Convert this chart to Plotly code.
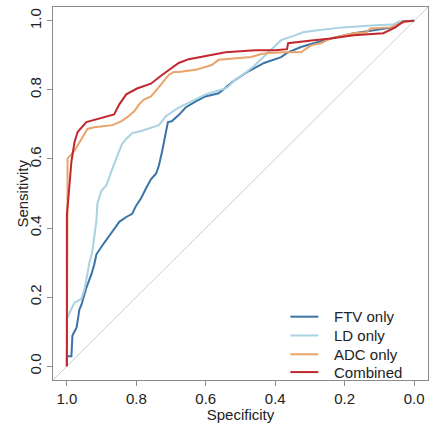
import plotly.graph_objects as go

# ROC curves (specificity, sensitivity)
ftv_spec = [1.0, 1.0, 0.987, 0.984, 0.972, 0.969, 0.964, 0.958, 0.952, 0.944, 0.929, 0.921, 0.915, 0.906,
            0.892, 0.869, 0.849, 0.829, 0.812, 0.801, 0.786, 0.772, 0.758, 0.743, 0.735, 0.726, 0.721, 0.715,
            0.709, 0.698, 0.678, 0.658, 0.629, 0.601, 0.563, 0.518, 0.480, 0.432, 0.383, 0.366, 0.326, 0.289,
            0.240, 0.174, 0.126, 0.060, 0.031, 0.0]
ftv_sens = [0.0, 0.029, 0.029, 0.089, 0.112, 0.138, 0.164, 0.178, 0.201, 0.227, 0.267, 0.295, 0.324, 0.338,
            0.358, 0.390, 0.418, 0.432, 0.441, 0.464, 0.487, 0.515, 0.541, 0.558, 0.581, 0.621, 0.649, 0.684,
            0.707, 0.709, 0.727, 0.749, 0.767, 0.781, 0.790, 0.827, 0.852, 0.878, 0.895, 0.907, 0.924, 0.935,
            0.949, 0.964, 0.972, 0.981, 0.998, 1.0]

ld_spec = [1.0, 1.0, 0.987, 0.978, 0.958, 0.949, 0.941, 0.935, 0.927, 0.921, 0.915, 0.912, 0.901, 0.886,
           0.878, 0.869, 0.858, 0.849, 0.841, 0.829, 0.812, 0.786, 0.764, 0.735, 0.715, 0.678, 0.641, 0.601,
           0.563, 0.538, 0.515, 0.486, 0.458, 0.429, 0.403, 0.383, 0.343, 0.320, 0.283, 0.206, 0.112, 0.060,
           0.043, 0.0]
ld_sens = [0.0, 0.137, 0.166, 0.184, 0.195, 0.224, 0.267, 0.301, 0.330, 0.372, 0.421, 0.472, 0.507, 0.524,
           0.544, 0.572, 0.601, 0.621, 0.644, 0.658, 0.675, 0.681, 0.689, 0.698, 0.724, 0.749, 0.767, 0.787,
           0.798, 0.807, 0.829, 0.849, 0.872, 0.901, 0.927, 0.944, 0.958, 0.967, 0.972, 0.981, 0.987, 0.989,
           0.998, 1.0]

adc_spec = [1.0, 1.0, 0.998, 0.978, 0.964, 0.955, 0.941, 0.921, 0.892, 0.869, 0.844, 0.826, 0.806, 0.792,
            0.778, 0.758, 0.741, 0.721, 0.706, 0.692, 0.678, 0.629, 0.583, 0.563, 0.515, 0.469, 0.440, 0.420,
            0.375, 0.326, 0.297, 0.269, 0.240, 0.174, 0.137, 0.126, 0.069, 0.040, 0.023, 0.0]
adc_sens = [0.0, 0.458, 0.601, 0.624, 0.649, 0.661, 0.687, 0.692, 0.695, 0.698, 0.709, 0.721, 0.738, 0.758,
            0.772, 0.781, 0.801, 0.824, 0.844, 0.852, 0.852, 0.858, 0.872, 0.887, 0.892, 0.895, 0.904, 0.907,
            0.909, 0.909, 0.929, 0.935, 0.949, 0.964, 0.967, 0.978, 0.981, 0.992, 0.998, 1.0]

comb_spec = [1.0, 1.0, 0.995, 0.987, 0.978, 0.969, 0.944, 0.926, 0.892, 0.864, 0.849, 0.829, 0.798, 0.758,
             0.729, 0.692, 0.678, 0.649, 0.583, 0.543, 0.458, 0.400, 0.366, 0.363, 0.289, 0.240, 0.174, 0.089,
             0.054, 0.031, 0.0]
comb_sens = [0.0, 0.438, 0.495, 0.592, 0.649, 0.678, 0.707, 0.712, 0.721, 0.729, 0.758, 0.787, 0.804, 0.818,
             0.841, 0.867, 0.878, 0.889, 0.901, 0.909, 0.915, 0.915, 0.918, 0.935, 0.944, 0.949, 0.958, 0.964,
             0.981, 0.998, 1.0]

names = ["FTV only", "LD only", "ADC only", "Combined"]
colors = ["#3b73a6", "#a9d2e3", "#e8a46a", "#c1272d"]
tick_vals = [1.0, 0.8, 0.6, 0.4, 0.2, 0.0]
tick_text = ["1.0", "0.8", "0.6", "0.4", "0.2", "0.0"]

fig = go.Figure()
series = [(ftv_spec, ftv_sens), (ld_spec, ld_sens), (adc_spec, adc_sens), (comb_spec, comb_sens)]
for (xs, ys), nm, c in zip(series, names, colors):
    fig.add_trace(go.Scatter(x=xs, y=ys, mode="lines", name=nm, showlegend=False,
                             line=dict(color=c, width=2)))

# chance diagonal
fig.add_shape(type="line", xref="x", yref="y", x0=1.04, y0=-0.04, x1=-0.04, y1=1.04,
              line=dict(color="#cccccc", width=1), layer="below")

# legend drawn in paper coordinates (compact R-style legend)
W, H = 432, 423
L, R, T, B = 53, 3, 7, 39
pw, ph = W - L - R, H - T - B


def px_x(px):
    return (px - L) / pw


def px_y(py):
    return (H - B - py) / ph


row_y = [320, 339, 358, 376]
for nm, c, yy in zip(names, colors, row_y):
    fig.add_shape(type="line", xref="paper", yref="paper",
                  x0=px_x(291), x1=px_x(319), y0=px_y(yy), y1=px_y(yy),
                  line=dict(color=c, width=2))
    fig.add_annotation(xref="paper", yref="paper", x=px_x(333), y=px_y(yy),
                       xanchor="left", yanchor="middle", text=nm, showarrow=False,
                       font=dict(size=15, color="#222222"))

# y-axis title placed like R's mtext
fig.add_annotation(xref="paper", yref="paper", x=px_x(22), y=0.5,
                   xanchor="center", yanchor="middle", text="Sensitivity",
                   textangle=-90, showarrow=False, font=dict(size=15, color="#222222"))

font = "Liberation Sans, Arial, Helvetica, sans-serif"
fig.update_layout(
    width=W, height=H,
    margin=dict(l=L, r=R, t=T, b=B),
    paper_bgcolor="white", plot_bgcolor="white",
    font=dict(family=font, size=15, color="#222222"),
    showlegend=False,
    xaxis=dict(range=[1.04, -0.04], tickvals=tick_vals, ticktext=tick_text,
               showgrid=False, zeroline=False, showline=True, mirror=True,
               linecolor="#8c8c8c", linewidth=1, ticks="outside", ticklen=5,
               tickcolor="#8c8c8c", tickfont=dict(size=15),
               title=dict(text="Specificity", font=dict(size=15), standoff=2)),
    yaxis=dict(range=[-0.04, 1.04], tickvals=tick_vals, ticktext=tick_text,
               showgrid=False, zeroline=False, showline=True, mirror=True,
               linecolor="#8c8c8c", linewidth=1, ticks="outside", ticklen=5,
               tickcolor="#8c8c8c", tickangle=-90, tickfont=dict(size=15)),
)

fig.write_html("out.html")
